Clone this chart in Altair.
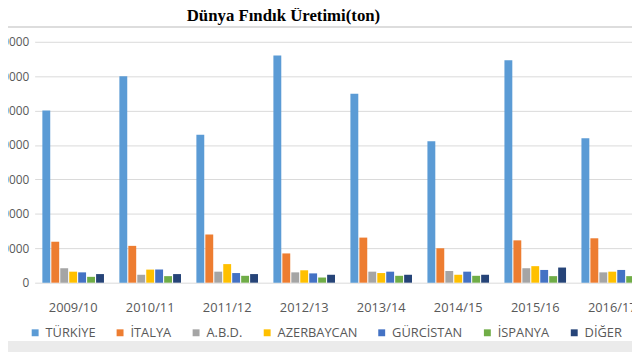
import altair as alt
import pandas as pd

years = ["2009/10", "2010/11", "2011/12", "2012/13", "2013/14", "2014/15", "2015/16", "2016/17"]
countries = ["TÜRKİYE", "İTALYA", "A.B.D.", "AZERBAYCAN", "GÜRCİSTAN", "İSPANYA", "DİĞER"]
colors = ["#5B9BD5", "#ED7D31", "#A5A5A5", "#FFC000", "#4472C4", "#70AD47", "#264478"]

turkiye = [500000, 600000, 430000, 660000, 549000, 411000, 646000, 420000]
italya = [119000, 107000, 140000, 85000, 131000, 100000, 123000, 129000]
abd = [42000, 23000, 32000, 30000, 32000, 34000, 42000, 30000]
azerbaycan = [32000, 38000, 54000, 36000, 28000, 23000, 48000, 32000]
gurcistan = [30000, 38000, 28000, 27000, 32000, 32000, 37000, 37000]
ispanya = [17000, 19000, 20000, 15000, 20000, 20000, 19000, 19000]
diger = [25000, 25000, 25000, 23000, 23000, 23000, 44000, 30000]

series = [turkiye, italya, abd, azerbaycan, gurcistan, ispanya, diger]
rows = []
for c, vals in zip(countries, series):
    for y, v in zip(years, vals):
        rows.append({"Yıl": y, "Ülke": c, "Üretim": v})
df = pd.DataFrame(rows)

font = "Open Sans"
grey = "#595959"

bars = alt.Chart(df).mark_bar().encode(
    x=alt.X("Yıl:N", sort=years, title=None,
            scale=alt.Scale(paddingInner=0.2, paddingOuter=0.1),
            axis=alt.Axis(labelAngle=0, ticks=False, domain=False, labelPadding=19,
                          labelFontSize=13, labelColor=grey, labelFont=font)),
    xOffset=alt.XOffset("Ülke:N", sort=countries, scale=alt.Scale(paddingInner=0.12)),
    y=alt.Y("Üretim:Q", title=None,
            scale=alt.Scale(domain=[0, 700000], nice=False),
            axis=alt.Axis(values=[0, 100000, 200000, 300000, 400000, 500000, 600000, 700000],
                          format="d", ticks=False, domain=False, labelPadding=6,
                          labelFontSize=12, labelColor=grey, labelFont=font,
                          gridColor="#D9D9D9", gridWidth=1)),
    color=alt.Color("Ülke:N", sort=countries,
                    scale=alt.Scale(domain=countries, range=colors),
                    legend=alt.Legend(title=None, orient="none", direction="horizontal",
                                      columns=7, legendX=-6, legendY=288,
                                      symbolType="square", symbolSize=49, symbolStrokeWidth=0,
                                      labelFontSize=13, labelColor=grey, labelFont=font,
                                      labelOffset=4, columnPadding=18)),
)

deco = pd.DataFrame({"k": [0]})
top_line = alt.Chart(deco).mark_rule(color="#DDDDDD", strokeWidth=2).encode(
    x=alt.value(-30), x2=alt.value(610), y=alt.value(-15))
bottom_band = alt.Chart(deco).mark_rect(color="#EBEBEB").encode(
    x=alt.value(-30), x2=alt.value(610), y=alt.value(303), y2=alt.value(330))

chart = alt.layer(top_line, bottom_band, bars).properties(
    width=624, height=244,
    title=alt.TitleParams("Dünya Fındık Üretimi(ton)", font="Liberation Serif", fontSize=17,
                          fontWeight="bold", color="#000000", anchor="middle", dx=-60,
                          offset=1),
    autosize=alt.AutoSizeParams(type="none"),
    padding={"left": 27, "top": 32, "right": -19, "bottom": 68},
).configure_view(stroke=None)

chart.save("out.html", embed_options={"renderer": "svg", "actions": False})
